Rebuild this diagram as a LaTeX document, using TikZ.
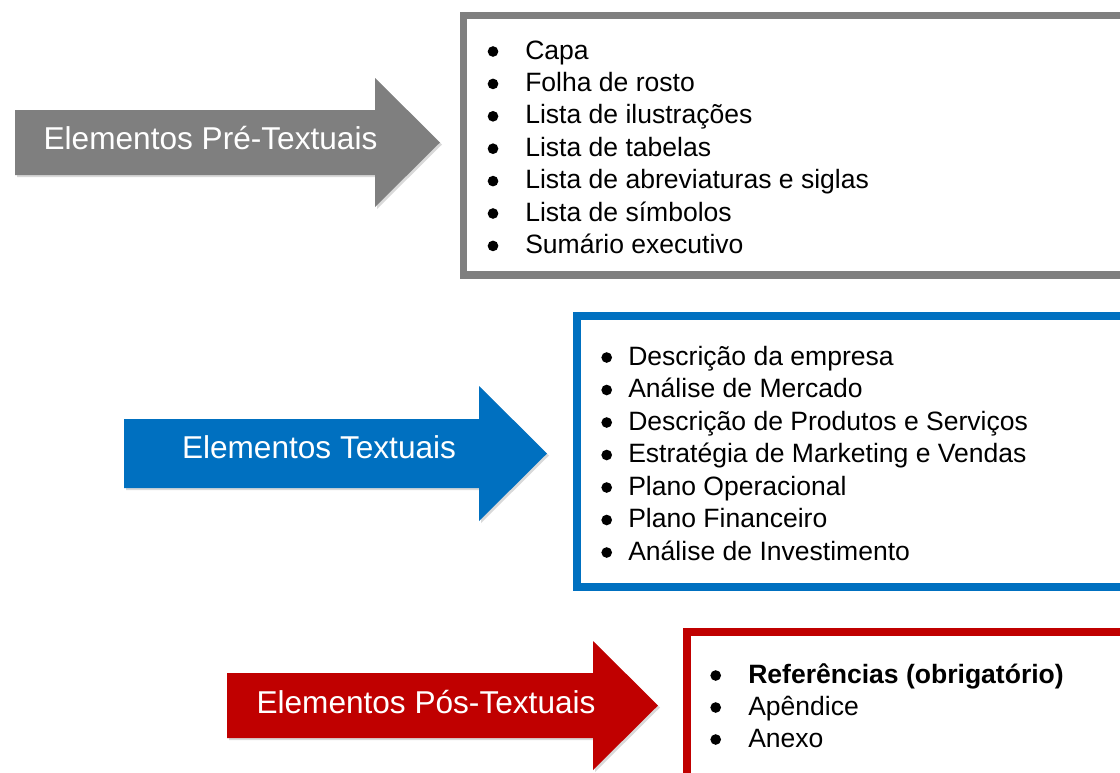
\documentclass[tikz,border=0pt]{standalone}
\usepackage{fontspec}
\setmainfont{Liberation Sans}
\usetikzlibrary{shadows}
\definecolor{cinza}{HTML}{7F7F7F}
\definecolor{azul}{HTML}{0070C0}
\definecolor{vermelho}{HTML}{C00000}

\begin{document}
\begin{tikzpicture}[x=0.75pt, y=-0.75pt,
				seta/.style={fill=#1, drop shadow={shadow xshift=1.5pt, shadow yshift=-1.5pt, opacity=0.3}},
				caixa/.style={draw=#1, line width=5.8pt, fill=white},
				titulo/.style={text=white, anchor=base, inner sep=0pt, font=\fontsize{23.7}{28}\selectfont},
				item/.style={anchor=base west, inner sep=0pt, font=\fontsize{19.9}{24}\selectfont}]
				%Bildbereich
				\useasboundingbox (0,0) rectangle (1120,772);
				\clip (0,0) rectangle (1120,772);
				% Setas
				\fill[seta=cinza] (15,110) -- (375,110) -- (375,78) -- (440,142.5) -- (375,207) -- (375,175) -- (15,175) -- cycle;
				\fill[seta=azul] (124,419) -- (479,419) -- (479,386) -- (547,453.5) -- (479,521) -- (479,488) -- (124,488) -- cycle;
				\fill[seta=vermelho] (227,673) -- (593,673) -- (593,641) -- (658,705.5) -- (593,770) -- (593,738) -- (227,738) -- cycle;
				\node[titulo] (pre) at (210.5,149) {Elementos Pré-Textuais};
				\node[titulo] (txt) at (319,458) {Elementos Textuais};
				\node[titulo] (pos) at (426,713) {Elementos Pós-Textuais};
				% Caixas
				\draw[caixa=cinza] (463.5,15.5) rectangle (1140,275);
				\draw[caixa=azul] (577,316) rectangle (1140,587);
				\draw[caixa=vermelho] (687,632) rectangle (1140,800);
				% Listas
				\foreach \t [count=\i] in {Capa, Folha de rosto, Lista de ilustrações, Lista de tabelas, Lista de abreviaturas e siglas, Lista de símbolos, Sumário executivo} {
					\fill (493,{59+32.4*(\i-1)-7.5}) circle (4pt);
					\node[item] (pre\i) at (525,{59+32.4*(\i-1)}) {\t};
				}
				\foreach \t [count=\i] in {Descrição da empresa, Análise de Mercado, Descrição de Produtos e Serviços, Estratégia de Marketing e Vendas, Plano Operacional, Plano Financeiro, Análise de Investimento} {
					\fill (606.7,{365+32.5*(\i-1)-7.5}) circle (4pt);
					\node[item] (txt\i) at (628,{365+32.5*(\i-1)}) {\t};
				}
				\foreach \t [count=\i] in {{\bfseries Referências (obrigatório)}, Apêndice, Anexo} {
					\fill (715.7,{683+32*(\i-1)-7.5}) circle (4pt);
					\node[item] (pos\i) at (748,{683+32*(\i-1)}) {\t};
				}
			\end{tikzpicture}
\end{document}
